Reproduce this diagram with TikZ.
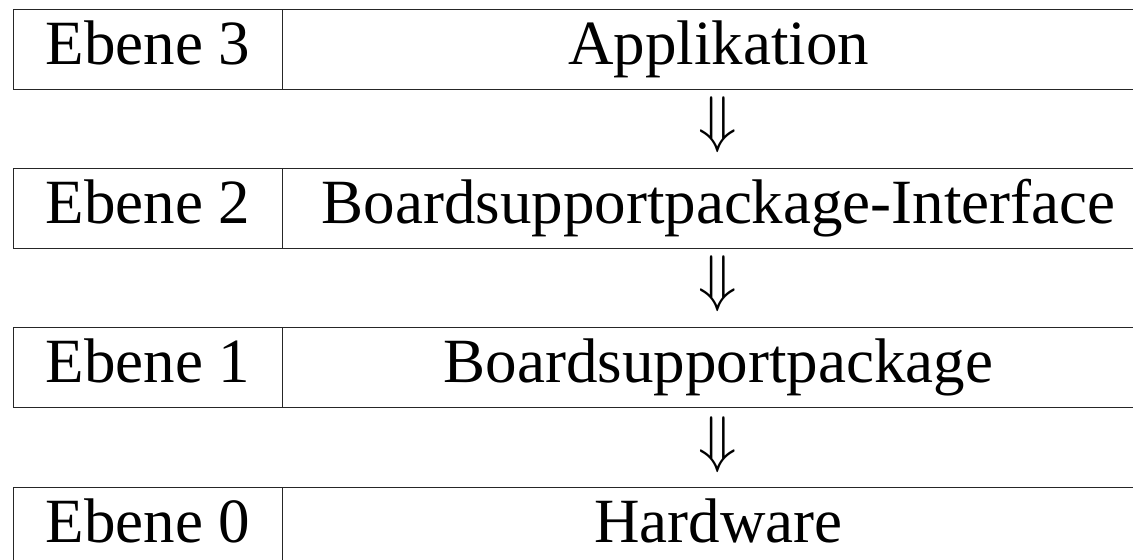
\RequirePackage{fix-cm}
\documentclass[tikz,border=0pt]{standalone}
\usepackage{fontspec}
\setmainfont{Liberation Serif}
\begin{document}
\begin{tikzpicture}[x=0.5pt,y=-0.5pt,
  cellbox/.style={draw=black!85, line width=0.6pt, inner sep=0pt,
    minimum height=40pt, anchor=north west,
    font=\fontsize{31.5pt}{38pt}\selectfont,
    text height=14.5pt, text depth=0pt},
  levelbox/.style={cellbox, minimum width=134.5pt},
  layerbox/.style={cellbox, minimum width=436pt},
  downarrow/.style={inner sep=0pt, anchor=base,
    font=\fontsize{31.5pt}{38pt}\selectfont}]
  \clip (0,0) rectangle (1133,560);
  \fill[white] (0,0) rectangle (1133,560);

  % level column and layer column, one row per level
  \node[levelbox] (l3) at (13,9)   {Ebene 3};
  \node[layerbox] (r3) at (282,9)  {Applikation};
  \node[levelbox] (l2) at (13,168) {Ebene 2};
  \node[layerbox] (r2) at (282,168) {Boardsupportpackage-Interface};
  \node[levelbox] (l1) at (13,327) {Ebene 1};
  \node[layerbox] (r1) at (282,327) {Boardsupportpackage};
  \node[levelbox] (l0) at (13,487) {Ebene 0};
  \node[layerbox] (r0) at (282,487) {Hardware};

  % arrows between the layers
  \node[downarrow] (a32) at (718,141) {$\Downarrow$};
  \node[downarrow] (a21) at (718,300) {$\Downarrow$};
  \node[downarrow] (a10) at (718,460) {$\Downarrow$};
\end{tikzpicture}
\end{document}
